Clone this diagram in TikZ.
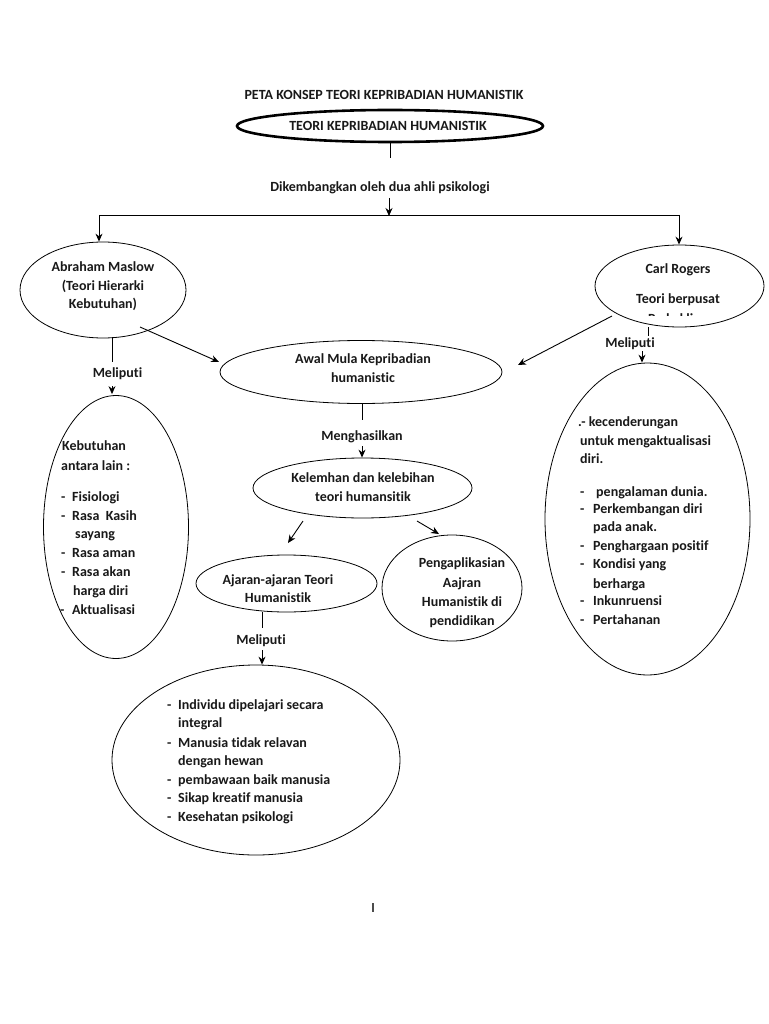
\documentclass[tikz,border=0pt]{standalone}
\usepackage{fontspec}
\setmainfont{Carlito}[Ligatures={NoCommon,NoContextual}]
\usetikzlibrary{shapes.geometric,arrows.meta}
\begin{document}
\begin{tikzpicture}[x=1pt,y=-1pt,
  txt/.style={font=\bfseries\fontsize{14}{17}\selectfont, inner sep=0pt, text=black!90},
  ell/.style={draw, ellipse, inner sep=0pt, line width=0.8pt},
  ln/.style={line width=0.9pt},
  arr/.style={line width=0.9pt, -{Stealth[length=8pt,width=7pt]}}]
\useasboundingbox[fill=white] (0,0) rectangle (768,1024);

% title
\node[txt, anchor=base] (title) at (384,99.5) {PETA KONSEP TEORI KEPRIBADIAN HUMANISTIK};
\node[ell, line width=2.6pt, minimum width=306pt, minimum height=32pt] (top) at (390,126) {};
\node[txt, anchor=base] (toptxt) at (388,130.5) {TEORI KEPRIBADIAN HUMANISTIK};
\coordinate (t1) at (390,158);
\draw[ln] (top.south) -- (t1);
\node[txt, anchor=base] (dik) at (380,192) {Dikembangkan oleh dua ahli psikologi};
\coordinate (d1) at (389,198);
\coordinate (d2) at (389,215);
\coordinate (hl) at (99,215);
\coordinate (hr) at (679,215);
\draw[arr] (d1) -- ([yshift=-1pt]d2);
\draw[ln] (hl) -- (hr);

% Maslow
\node[ell, minimum width=166pt, minimum height=96pt] (maslow) at (103,290) {};
\draw[arr] (hl) -- (hl |- maslow.north);
\node[txt, anchor=base] (m1) at (103,271) {Abraham Maslow};
\node[txt, anchor=base] (m2) at (103,290) {(Teori Hierarki};
\node[txt, anchor=base] (m3) at (103,308) {Kebutuhan)};

% Carl Rogers
\node[ell, minimum width=169pt, minimum height=82pt] (carl) at (679.5,286) {};
\draw[arr] (hr) -- (hr |- carl.north);
\node[txt, anchor=base] (c1) at (678,273) {Carl Rogers};
\node[txt, anchor=base] (c2) at (678,303) {Teori berpusat};
\begin{scope}
\clip (600,300) rectangle (760,315.5);
\node[txt, anchor=base] (c3) at (678,323.5) {Pada klien};
\end{scope}

% Awal
\node[ell, minimum width=282pt, minimum height=63pt] (awal) at (361,372) {};
\node[txt, anchor=base] (a1) at (363,363) {Awal Mula Kepribadian};
\node[txt, anchor=base] (a2) at (363,382) {humanistic};
\coordinate (ms) at (140,327);
\coordinate (me) at (219,362);
\draw[arr] (ms) -- (me);
\coordinate (cs) at (612,316);
\coordinate (ce) at (518,365);
\draw[arr] (cs) -- (ce);

% Maslow Meliputi
\coordinate (ml1) at (112,337);
\coordinate (ml2) at (112,362);
\draw[ln] (ml1) -- (ml2);
\node[txt, anchor=base] (mel1) at (117.5,377) {Meliputi};
\coordinate (ma1) at (112,386);
\node[ell, minimum width=145pt, minimum height=263pt] (kebut) at (116,527) {};
\draw[arr] (ma1) -- ([yshift=1pt]ma1 |- kebut.north);

\node[txt, anchor=base west] (k1) at (62,450) {Kebutuhan};
\node[txt, anchor=base west] (k2) at (61,470) {antara lain :};
\node[txt, anchor=base west] (k3b) at (61,501) {-};
\node[txt, anchor=base west] (k3) at (72,501) {Fisiologi};
\node[txt, anchor=base west] (k4b) at (61,520) {-};
\node[txt, anchor=base west] (k4) at (72,520) {Rasa\ \ Kasih};
\node[txt, anchor=base west] (k5) at (75,538) {sayang};
\node[txt, anchor=base west] (k6b) at (61,557) {-};
\node[txt, anchor=base west] (k6) at (72,557) {Rasa aman};
\node[txt, anchor=base west] (k7b) at (61,576) {-};
\node[txt, anchor=base west] (k7) at (72,576) {Rasa akan};
\node[txt, anchor=base west] (k8) at (73,595) {harga diri};
\node[txt, anchor=base west] (k9b) at (60,614) {-};
\node[txt, anchor=base west] (k9) at (72,614) {Aktualisasi};

% Carl Meliputi
\coordinate (cl1) at (648,327);
\coordinate (cl2) at (648,336);
\draw[ln] (cl1) -- (cl2);
\node[txt, anchor=base] (mel2) at (630,347) {Meliputi};
\coordinate (ca1) at (642,351);
\node[ell, minimum width=205pt, minimum height=312pt] (rog) at (647.5,519) {};
\draw[arr] (ca1) -- (ca1 |- rog.north);

\node[txt, anchor=base west] (r1) at (578,426) {.- kecenderungan};
\node[txt, anchor=base west] (r2) at (580,445) {untuk mengaktualisasi};
\node[txt, anchor=base west] (r3) at (580,463) {diri.};
\node[txt, anchor=base west] (r4b) at (580,496) {-};
\node[txt, anchor=base west] (r4) at (596,496) {pengalaman dunia.};
\node[txt, anchor=base west] (r5b) at (580,513) {-};
\node[txt, anchor=base west] (r5) at (593,513) {Perkembangan diri};
\node[txt, anchor=base west] (r6) at (593,531) {pada anak.};
\node[txt, anchor=base west] (r7b) at (580,550) {-};
\node[txt, anchor=base west] (r7) at (593,550) {Penghargaan positif};
\node[txt, anchor=base west] (r8b) at (580,568) {-};
\node[txt, anchor=base west] (r8) at (593,568) {Kondisi yang};
\node[txt, anchor=base west] (r9) at (593,588) {berharga};
\node[txt, anchor=base west] (r10b) at (580,605) {-};
\node[txt, anchor=base west] (r10) at (593,605) {Inkunruensi};
\node[txt, anchor=base west] (r11b) at (580,624) {-};
\node[txt, anchor=base west] (r11) at (593,624) {Pertahanan};

% Menghasilkan
\coordinate (al1) at (362,404);
\coordinate (al2) at (362,420);
\draw[ln] (al1) -- (al2);
\node[txt, anchor=base] (mgh) at (362,440) {Menghasilkan};
\coordinate (aa1) at (362,446);
\node[ell, minimum width=219pt, minimum height=60pt] (kel) at (362.5,488) {};
\draw[arr] (aa1) -- (aa1 |- kel.north);
\node[txt, anchor=base] (kl1) at (363,482) {Kelemhan dan kelebihan};
\node[txt, anchor=base] (kl2) at (363,501) {teori humansitik};

% Ajaran and Pengaplikasian
\node[ell, minimum width=181pt, minimum height=57pt] (ajar) at (286.5,583.5) {};
\node[txt, anchor=base] (aj1) at (278,584) {Ajaran-ajaran Teori};
\node[txt, anchor=base] (aj2) at (278,602) {Humanistik};
\node[ell, minimum width=140pt, minimum height=106pt] (peng) at (452,588) {};
\node[txt, anchor=base] (p1) at (462,567) {Pengaplikasian};
\node[txt, anchor=base] (p2) at (462,587) {Aajran};
\node[txt, anchor=base] (p3) at (462,606) {Humanistik di};
\node[txt, anchor=base] (p4) at (462,625) {pendidikan};
\coordinate (ks1) at (303,521);
\coordinate (ke1) at (288,543);
\draw[arr] (ks1) -- (ke1);
\coordinate (ks2) at (417,521);
\coordinate (ke2) at (439,534);
\draw[arr] (ks2) -- (ke2);

% Ajaran Meliputi
\coordinate (jl1) at (262,612);
\coordinate (jl2) at (262,628);
\draw[ln] (jl1) -- (jl2);
\node[txt, anchor=base] (mel3) at (261,644) {Meliputi};
\coordinate (ja1) at (262,650);
\node[ell, minimum width=288pt, minimum height=190pt] (bot) at (256,760) {};
\draw[arr] (ja1) -- (ja1 |- bot.north);
\node[txt, anchor=base west] (b1b) at (167,709) {-};
\node[txt, anchor=base west] (b1) at (178,709) {Individu dipelajari secara};
\node[txt, anchor=base west] (b2) at (178,727) {integral};
\node[txt, anchor=base west] (b3b) at (167,747) {-};
\node[txt, anchor=base west] (b3) at (178,747) {Manusia tidak relavan};
\node[txt, anchor=base west] (b4) at (178,765) {dengan hewan};
\node[txt, anchor=base west] (b5b) at (167,784) {-};
\node[txt, anchor=base west] (b5) at (178,784) {pembawaan baik manusia};
\node[txt, anchor=base west] (b6b) at (167,802) {-};
\node[txt, anchor=base west] (b6) at (178,802) {Sikap kreatif manusia};
\node[txt, anchor=base west] (b7b) at (167,821) {-};
\node[txt, anchor=base west] (b7) at (178,821) {Kesehatan psikologi};

% page mark
\node[inner sep=0pt, text=black!70] (pg) at (373,907) {\rule{1.2pt}{9pt}};
\end{tikzpicture}
\end{document}
